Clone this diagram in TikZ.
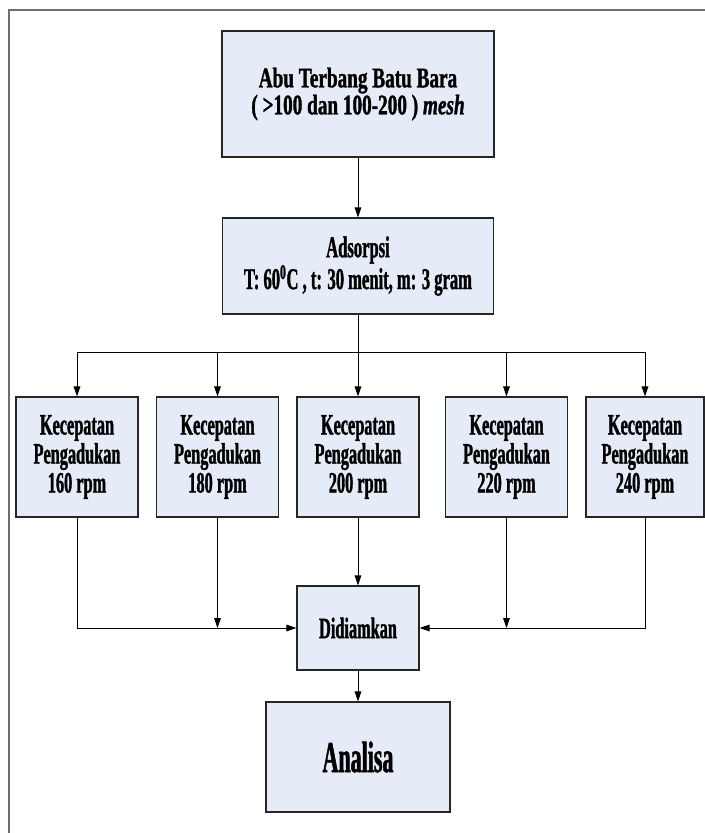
\documentclass[tikz,border=0pt]{standalone}
\usepackage{fontspec}
\setmainfont{Liberation Serif}
\newfontfamily\narrowfont[FakeStretch=0.55, FakeBold=1.2]{Liberation Serif}
\newfontfamily\topfont[FakeStretch=0.68, FakeBold=1.2]{Liberation Serif}
\newfontfamily\bigfont[FakeStretch=0.5, FakeBold=1.2]{Liberation Serif}
\usepackage{xcolor}
\usepackage{tikz}
\usetikzlibrary{arrows.meta, positioning, calc}
\definecolor{boxfill}{RGB}{230,236,247}
\definecolor{frameline}{RGB}{110,110,110}

\begin{document}
\begin{tikzpicture}[x=0.75pt, y=-0.75pt, >={Triangle[length=7.5pt,width=5pt]},
  line width=0.75pt,
  box/.style={draw=black!85, line width=0.9pt, fill=boxfill, align=center, inner sep=0pt},
  speed/.style={box, minimum width=91.5pt, minimum height=90pt,
                font=\narrowfont\bfseries\fontsize{22.2}{21.75}\selectfont}]

  \useasboundingbox (0,0) rectangle (705,833);
  \draw[frameline, line width=1.2pt] (705,10) -- (9,10) -- (9,833);

  \node[box, minimum width=204pt, minimum height=94.5pt,
        font=\topfont\bfseries\fontsize{21.2}{20.25}\selectfont] (abu) at (358,94)
        {Abu Terbang Batu Bara\\( >100 dan 100-200 ) \textit{mesh}};
  \node[box, minimum width=203pt, minimum height=72pt,
        font=\narrowfont\bfseries\fontsize{22.6}{22.5}\selectfont] (ads) at (358,266)
        {Adsorpsi\\T: 60\textsuperscript{0}C , t: 30 menit, m: 3 gram};

  \node[speed] (k1) at (77,457)  {Kecepatan\\Pengadukan\\160 rpm};
  \node[speed] (k2) at (217.5,457) {Kecepatan\\Pengadukan\\180 rpm};
  \node[speed] (k3) at (358,457) {Kecepatan\\Pengadukan\\200 rpm};
  \node[speed] (k4) at (506.5,457) {Kecepatan\\Pengadukan\\220 rpm};
  \node[speed, minimum width=88.5pt] (k5) at (645,457) {Kecepatan\\Pengadukan\\240 rpm};

  \node[box, minimum width=91.5pt, minimum height=63pt,
        font=\narrowfont\bfseries\fontsize{22.2}{22}\selectfont] (did) at (358,628) {Didiamkan};
  \node[box, minimum width=138pt, minimum height=82.5pt,
        font=\bigfont\bfseries\fontsize{33}{34}\selectfont] (ana) at (358,757) {Analisa};

  \coordinate (bus) at (0,352);

  \draw[->] (abu.south) -- (abu.south|-ads.north);
  \draw (ads.south) -- (ads.south|-bus);
  \draw (k1.north|-bus) -- (k5.north|-bus);
  \draw[->] (k1.north|-bus) -- (k1.north);
  \draw[->] (k2.north|-bus) -- (k2.north);
  \draw[->] (k3.north|-bus) -- (k3.north);
  \draw[->] (k4.north|-bus) -- (k4.north);
  \draw[->] (k5.north|-bus) -- (k5.north);

  \draw[->] (k1.south) |- (did.west);
  \draw[->] (k5.south) |- (did.east);
  \draw[->] (k2.south) -- (k2.south|-did.west);
  \draw[->] (k4.south) -- (k4.south|-did.east);
  \draw[->] (k3.south) -- (did.north);
  \draw[->] (did.south) -- (ana.north);
\end{tikzpicture}
\end{document}
